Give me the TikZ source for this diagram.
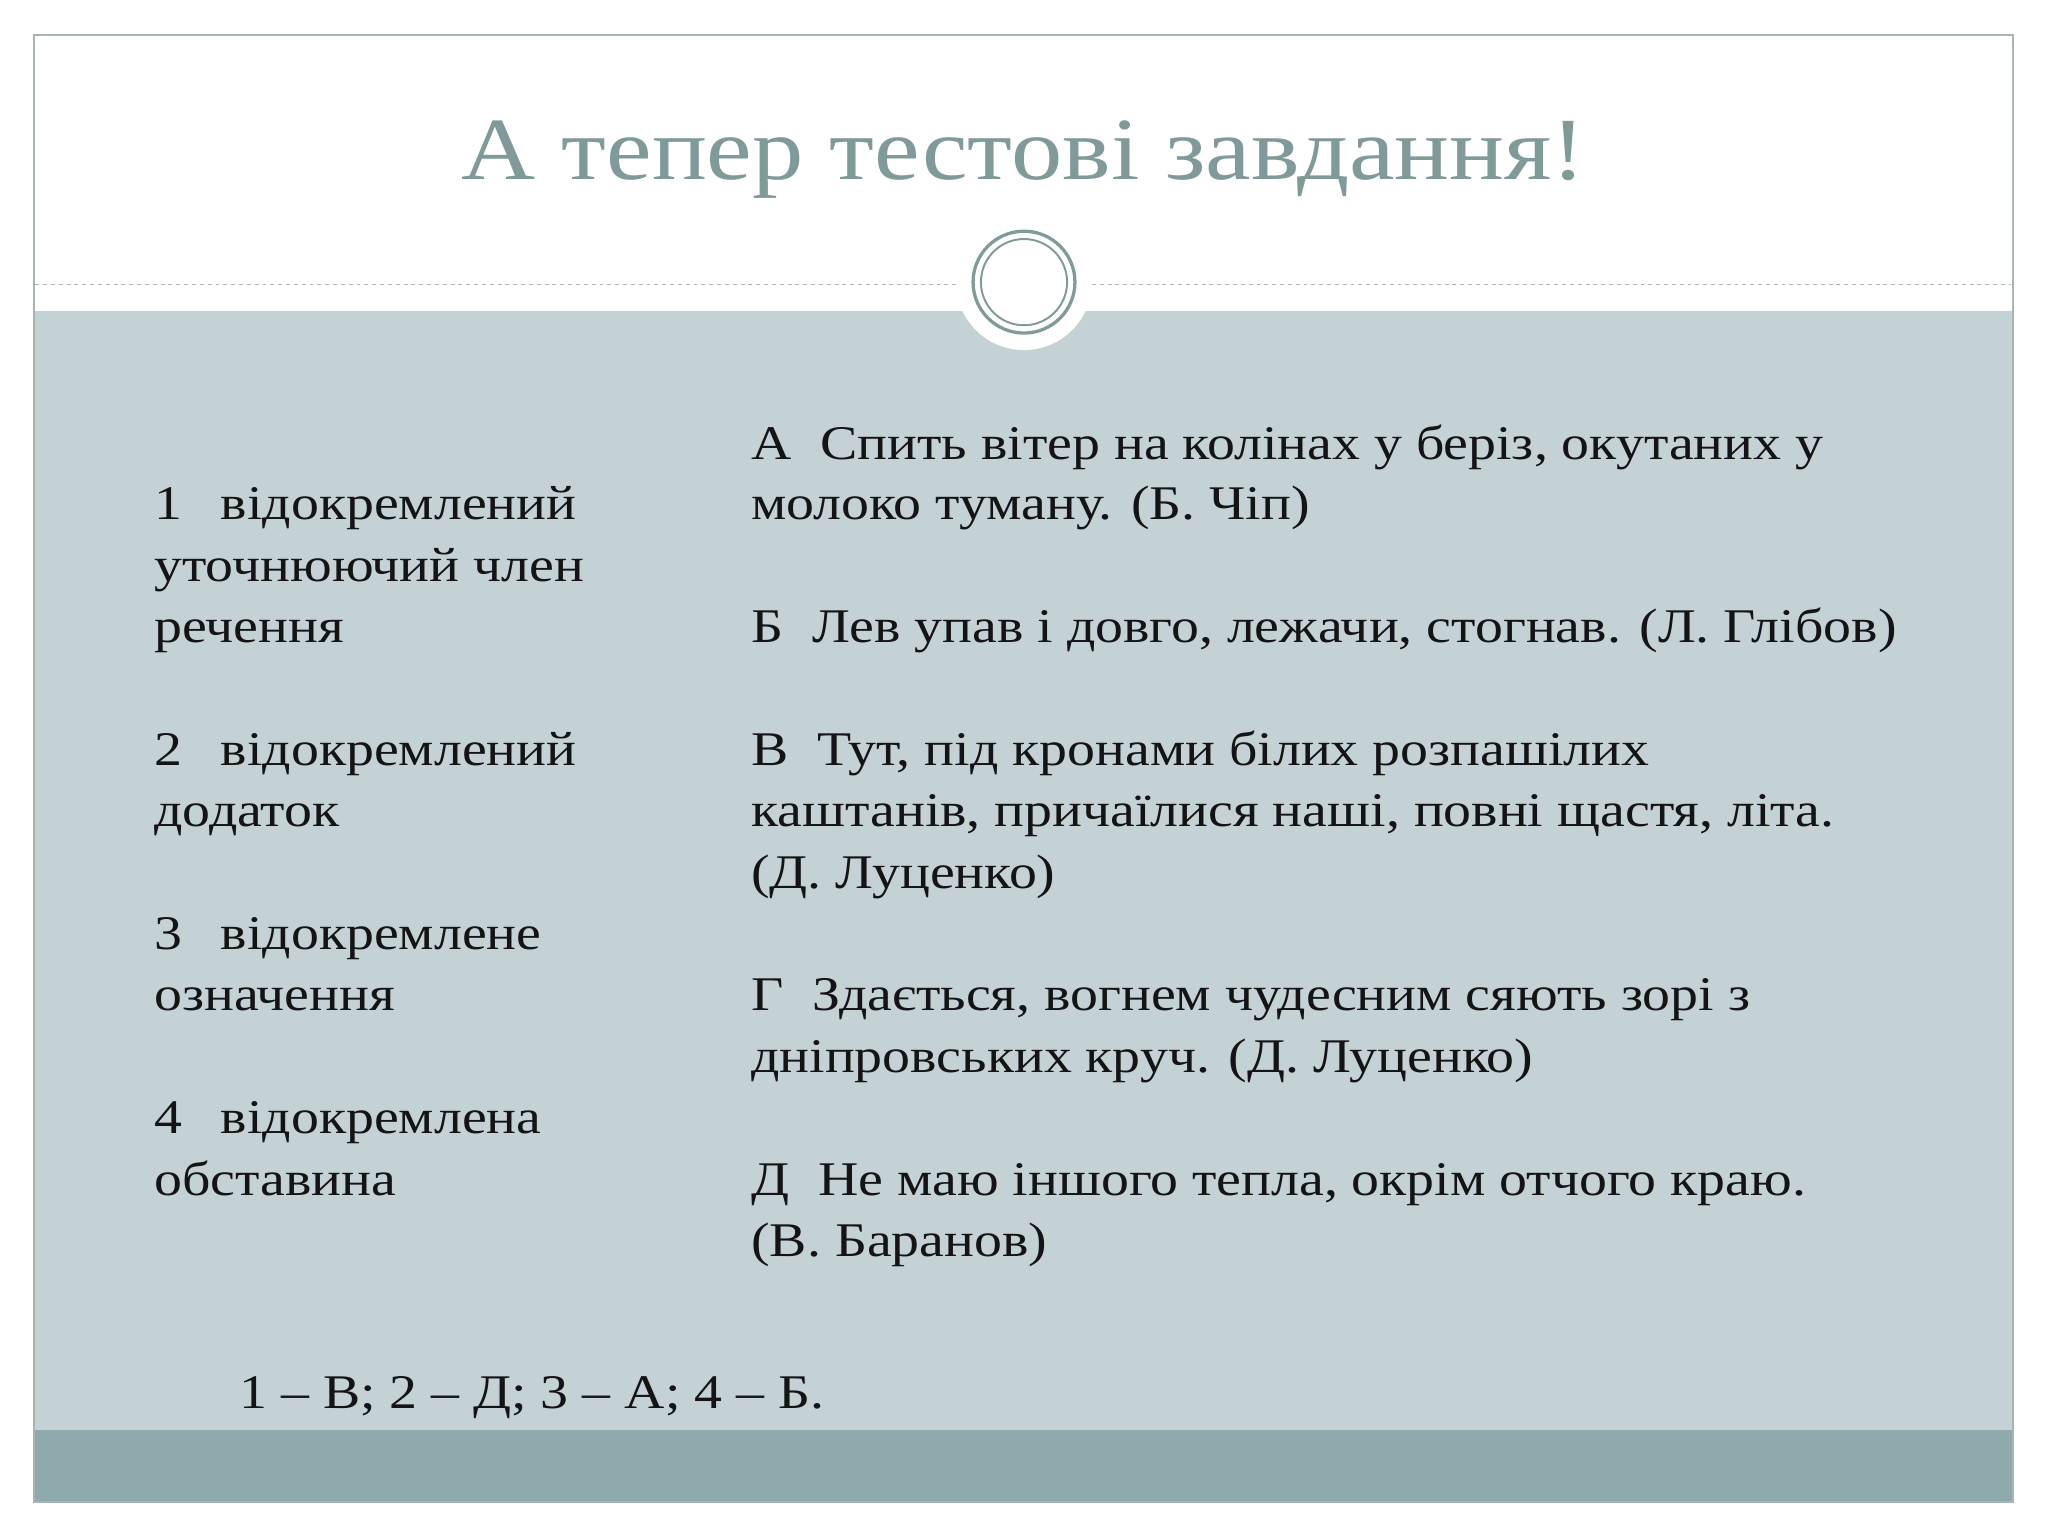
\documentclass[tikz,border=0pt]{standalone}
\usepackage{fontspec}
\setmainfont[FakeStretch=1.155]{Liberation Serif}
\definecolor{frame}{HTML}{A6B4B4}
\definecolor{band}{HTML}{C5D2D5}
\definecolor{dark}{HTML}{8FAAAD}
\definecolor{accent}{HTML}{7F9A99}
\definecolor{ink}{HTML}{141414}
\tikzset{tl/.style={anchor=base west,inner sep=0pt,text=ink,font=\fontsize{37}{44}\selectfont}}
\begin{document}
\begin{tikzpicture}[x=1pt,y=-1pt]
\useasboundingbox (0,0) rectangle (1568,1176);
\fill[white] (0,0) rectangle (1568,1176);
\fill[band] (26,238) rectangle (1541,1095);
\fill[dark] (26,1095) rectangle (1541,1150);
\draw[frame,line width=1.2pt] (26,27) rectangle (1541,1150);
\draw[frame,dashed,line width=1pt] (27,218) -- (733,218);
\draw[frame,dashed,line width=1pt] (836,218) -- (1540,218);
\fill[white] (784,216) circle (52);
\draw[accent,line width=2.5pt] (784,216) circle (39);
\draw[accent,line width=1.5pt] (784,216) circle (33);
\node[text=accent,font=\fontsize{68}{76}\selectfont,inner sep=0pt] (title) at (784,122) {А тепер тестові завдання!};
\node[tl] (l1) at (118,398) {1\hspace{0.8em}відокремлений};
\node[tl] (l2) at (118,445) {уточнюючий член};
\node[tl] (l3) at (118,492) {речення};
\node[tl] (l4) at (118,586) {2\hspace{0.8em}відокремлений};
\node[tl] (l5) at (118,633) {додаток};
\node[tl] (l6) at (118,727) {3\hspace{0.8em}відокремлене};
\node[tl] (l7) at (118,774) {означення};
\node[tl] (l8) at (118,868) {4\hspace{0.8em}відокремлена};
\node[tl] (l9) at (118,915) {обставина};
\node[tl] (r1) at (575,352) {А\hspace{0.6em}Спить вітер на колінах у беріз, окутаних у};
\node[tl] (r2) at (575,398) {молоко туману. (Б. Чіп)};
\node[tl] (r3) at (575,492) {Б\hspace{0.6em}Лев упав і довго, лежачи, стогнав. (Л. Глібов)};
\node[tl] (r4) at (575,586) {В\hspace{0.6em}Тут, під кронами білих розпашілих};
\node[tl] (r5) at (575,633) {каштанів, причаїлися наші, повні щастя, літа.};
\node[tl] (r6) at (575,680) {(Д. Луценко)};
\node[tl] (r7) at (575,774) {Г\hspace{0.6em}Здається, вогнем чудесним сяють зорі з};
\node[tl] (r8) at (575,821) {дніпровських круч. (Д. Луценко)};
\node[tl] (r9) at (575,915) {Д\hspace{0.6em}Не маю іншого тепла, окрім отчого краю.};
\node[tl] (r10) at (575,962) {(В. Баранов)};
\node[tl] (ans) at (183,1078) {1 – В; 2 – Д; 3 – А; 4 – Б.};
\end{tikzpicture}
\end{document}
